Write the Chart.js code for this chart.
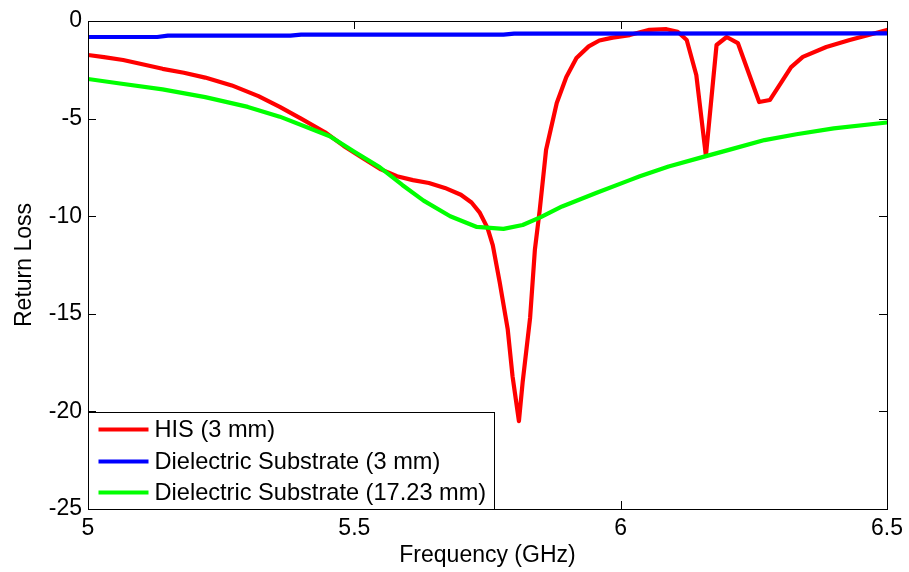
<!DOCTYPE html>
<html>
<head>
<meta charset="utf-8">
<script src="https://cdn.jsdelivr.net/npm/chart.js@4.4.0/dist/chart.umd.min.js"></script>
<style>
  html, body { margin: 0; padding: 0; background: #fff; }
  #wrap { width: 909px; height: 572px; }
</style>
</head>
<body>
<div id="wrap"><canvas id="chart" width="909" height="572"></canvas></div>
<script>
// values
var seriesNames = ["HIS (3 mm)", "Dielectric Substrate (3 mm)", "Dielectric Substrate (17.23 mm)"];
var seriesColors = ["#ff0000", "#0000ff", "#00ff00"];

var hisFreq = [5.0, 5.03, 5.066, 5.10, 5.14, 5.18, 5.22, 5.27, 5.32, 5.36, 5.40, 5.445, 5.48, 5.52, 5.55, 5.58, 5.61, 5.64, 5.67, 5.70, 5.72, 5.735, 5.75, 5.76, 5.773, 5.788, 5.797, 5.809, 5.816, 5.83, 5.839, 5.848, 5.86, 5.88, 5.898, 5.917, 5.94, 5.96, 5.985, 6.017, 6.054, 6.086, 6.107, 6.124, 6.142, 6.16, 6.18, 6.199, 6.22, 6.26, 6.28, 6.32, 6.342, 6.386, 6.43, 6.5];
var hisLoss = [-1.74, -1.85, -2.0, -2.2, -2.45, -2.65, -2.9, -3.3, -3.85, -4.4, -5.0, -5.7, -6.4, -7.1, -7.6, -7.95, -8.15, -8.3, -8.55, -8.9, -9.3, -9.8, -10.6, -11.5, -13.4, -15.8, -18.2, -20.5, -18.5, -15.2, -11.7, -9.7, -6.6, -4.2, -2.87, -1.9, -1.3, -1.0, -0.85, -0.72, -0.45, -0.42, -0.55, -0.97, -2.77, -6.9, -1.23, -0.82, -1.13, -4.15, -4.05, -2.36, -1.84, -1.33, -0.97, -0.46];

var thinFreq = [5.0, 5.13, 5.15, 5.38, 5.40, 5.78, 5.80, 6.5];
var thinLoss = [-0.82, -0.82, -0.75, -0.75, -0.7, -0.7, -0.65, -0.63];

var thickFreq = [5.0, 5.06, 5.14, 5.22, 5.30, 5.36, 5.435, 5.454, 5.50, 5.548, 5.59, 5.63, 5.68, 5.73, 5.78, 5.816, 5.85, 5.89, 5.955, 6.017, 6.036, 6.09, 6.15, 6.21, 6.27, 6.33, 6.40, 6.5];
var thickLoss = [-2.97, -3.2, -3.5, -3.9, -4.4, -4.9, -5.7, -5.9, -6.7, -7.5, -8.4, -9.2, -10.0, -10.55, -10.65, -10.45, -10.05, -9.5, -8.8, -8.15, -7.95, -7.45, -7.0, -6.55, -6.1, -5.8, -5.5, -5.2];

var xTickValues = [5, 5.5, 6, 6.5];
var xTickLabels = ["5", "5.5", "6", "6.5"];
var yTickValues = [-25, -20, -15, -10, -5, 0];
var yTickLabels = ["-25", "-20", "-15", "-10", "-5", "0"];

var FONT = "'Liberation Sans', Arial, sans-serif";
var FS = 23;

function pts(xs, ys) {
    var out = [];
    for (var i = 0; i < xs.length; i++) out.push({ x: xs[i], y: ys[i] });
    return out;
}

function lineSet(i, xs, ys, order) {
    return {
        label: seriesNames[i], data: pts(xs, ys), borderColor: seriesColors[i],
        borderWidth: 4.2, pointRadius: 0, tension: 0, order: order,
        borderJoinStyle: "round", borderCapStyle: "round"
    };
}

// frame, inward ticks and the boxed legend inside the plot
var matlabLook = {
    id: "matlabLook",
    afterDatasetsDraw: function(chart) {
        var ctx = chart.ctx, a = chart.chartArea;
        var xs = chart.scales.x, ys = chart.scales.y;
        var tl = 8;
        ctx.save();
        ctx.strokeStyle = "#000";
        ctx.lineWidth = 1;
        ctx.beginPath();
        for (var v of xTickValues) {
            var px = Math.round(xs.getPixelForValue(v)) + 0.5;
            ctx.moveTo(px, a.bottom); ctx.lineTo(px, a.bottom - tl);
            ctx.moveTo(px, a.top); ctx.lineTo(px, a.top + tl);
        }
        for (var w of yTickValues) {
            var py = Math.round(ys.getPixelForValue(w)) + 0.5;
            ctx.moveTo(a.left, py); ctx.lineTo(a.left + tl, py);
            ctx.moveTo(a.right, py); ctx.lineTo(a.right - tl, py);
        }
        ctx.stroke();
        ctx.strokeRect(Math.round(a.left) + 0.5, Math.round(a.top) + 0.5, Math.round(a.right - a.left), Math.round(a.bottom - a.top));

        // legend box
        var bx = Math.round(a.left) + 0.5, bw = 406, bh = 97;
        var by = Math.round(a.bottom) + 0.5 - bh;
        ctx.fillStyle = "#fff";
        ctx.fillRect(bx, by, bw, bh);
        ctx.strokeRect(bx, by, bw, bh);
        ctx.font = "23.6px " + FONT;
        ctx.textBaseline = "middle";
        ctx.textAlign = "left";
        var rows = [by + 17, by + 49, by + 80];
        for (var i = 0; i < seriesNames.length; i++) {
            ctx.strokeStyle = seriesColors[i];
            ctx.lineWidth = 4.2;
            ctx.beginPath();
            ctx.moveTo(bx + 10, rows[i]); ctx.lineTo(bx + 60, rows[i]);
            ctx.stroke();
            ctx.fillStyle = "#000";
            ctx.fillText(seriesNames[i], bx + 66, rows[i] + 1);
        }
        ctx.restore();
    }
};

new Chart(document.getElementById("chart"), {
    type: "line",
    data: {
        datasets: [
            lineSet(0, hisFreq, hisLoss, 3),
            lineSet(1, thinFreq, thinLoss, 2),
            lineSet(2, thickFreq, thickLoss, 1)
        ]
    },
    options: {
        responsive: false,
        animation: false,
        layout: { padding: { top: 21, right: 22, left: 0, bottom: 0 } },
        plugins: { legend: { display: false }, tooltip: { enabled: false } },
        scales: {
            x: {
                type: "linear", min: 5, max: 6.5,
                afterFit: function(s) { s.height = 63; },
                afterBuildTicks: function(s) { s.ticks = xTickValues.map(function(v) { return { value: v }; }); },
                ticks: {
                    color: "#000", padding: 6, maxRotation: 0, autoSkip: false,
                    font: { family: FONT, size: FS },
                    callback: function(v) { return xTickLabels[xTickValues.indexOf(v)]; }
                },
                grid: { display: false, drawTicks: false },
                border: { display: false },
                title: { display: true, text: "Frequency (GHz)", color: "#000", font: { family: FONT, size: FS }, padding: { top: 0, bottom: 3 } }
            },
            y: {
                type: "linear", min: -25, max: 0,
                afterFit: function(s) { s.width = 88; },
                afterBuildTicks: function(s) { s.ticks = yTickValues.map(function(v) { return { value: v }; }); },
                ticks: {
                    color: "#000", padding: 6, autoSkip: false,
                    font: { family: FONT, size: FS },
                    callback: function(v) { return yTickLabels[yTickValues.indexOf(v)]; }
                },
                grid: { display: false, drawTicks: false },
                border: { display: false },
                title: { display: true, text: "Return Loss", color: "#000", font: { family: FONT, size: FS }, padding: { top: 11, bottom: 0 } }
            }
        }
    },
    plugins: [matlabLook]
});
</script>
</body>
</html>
